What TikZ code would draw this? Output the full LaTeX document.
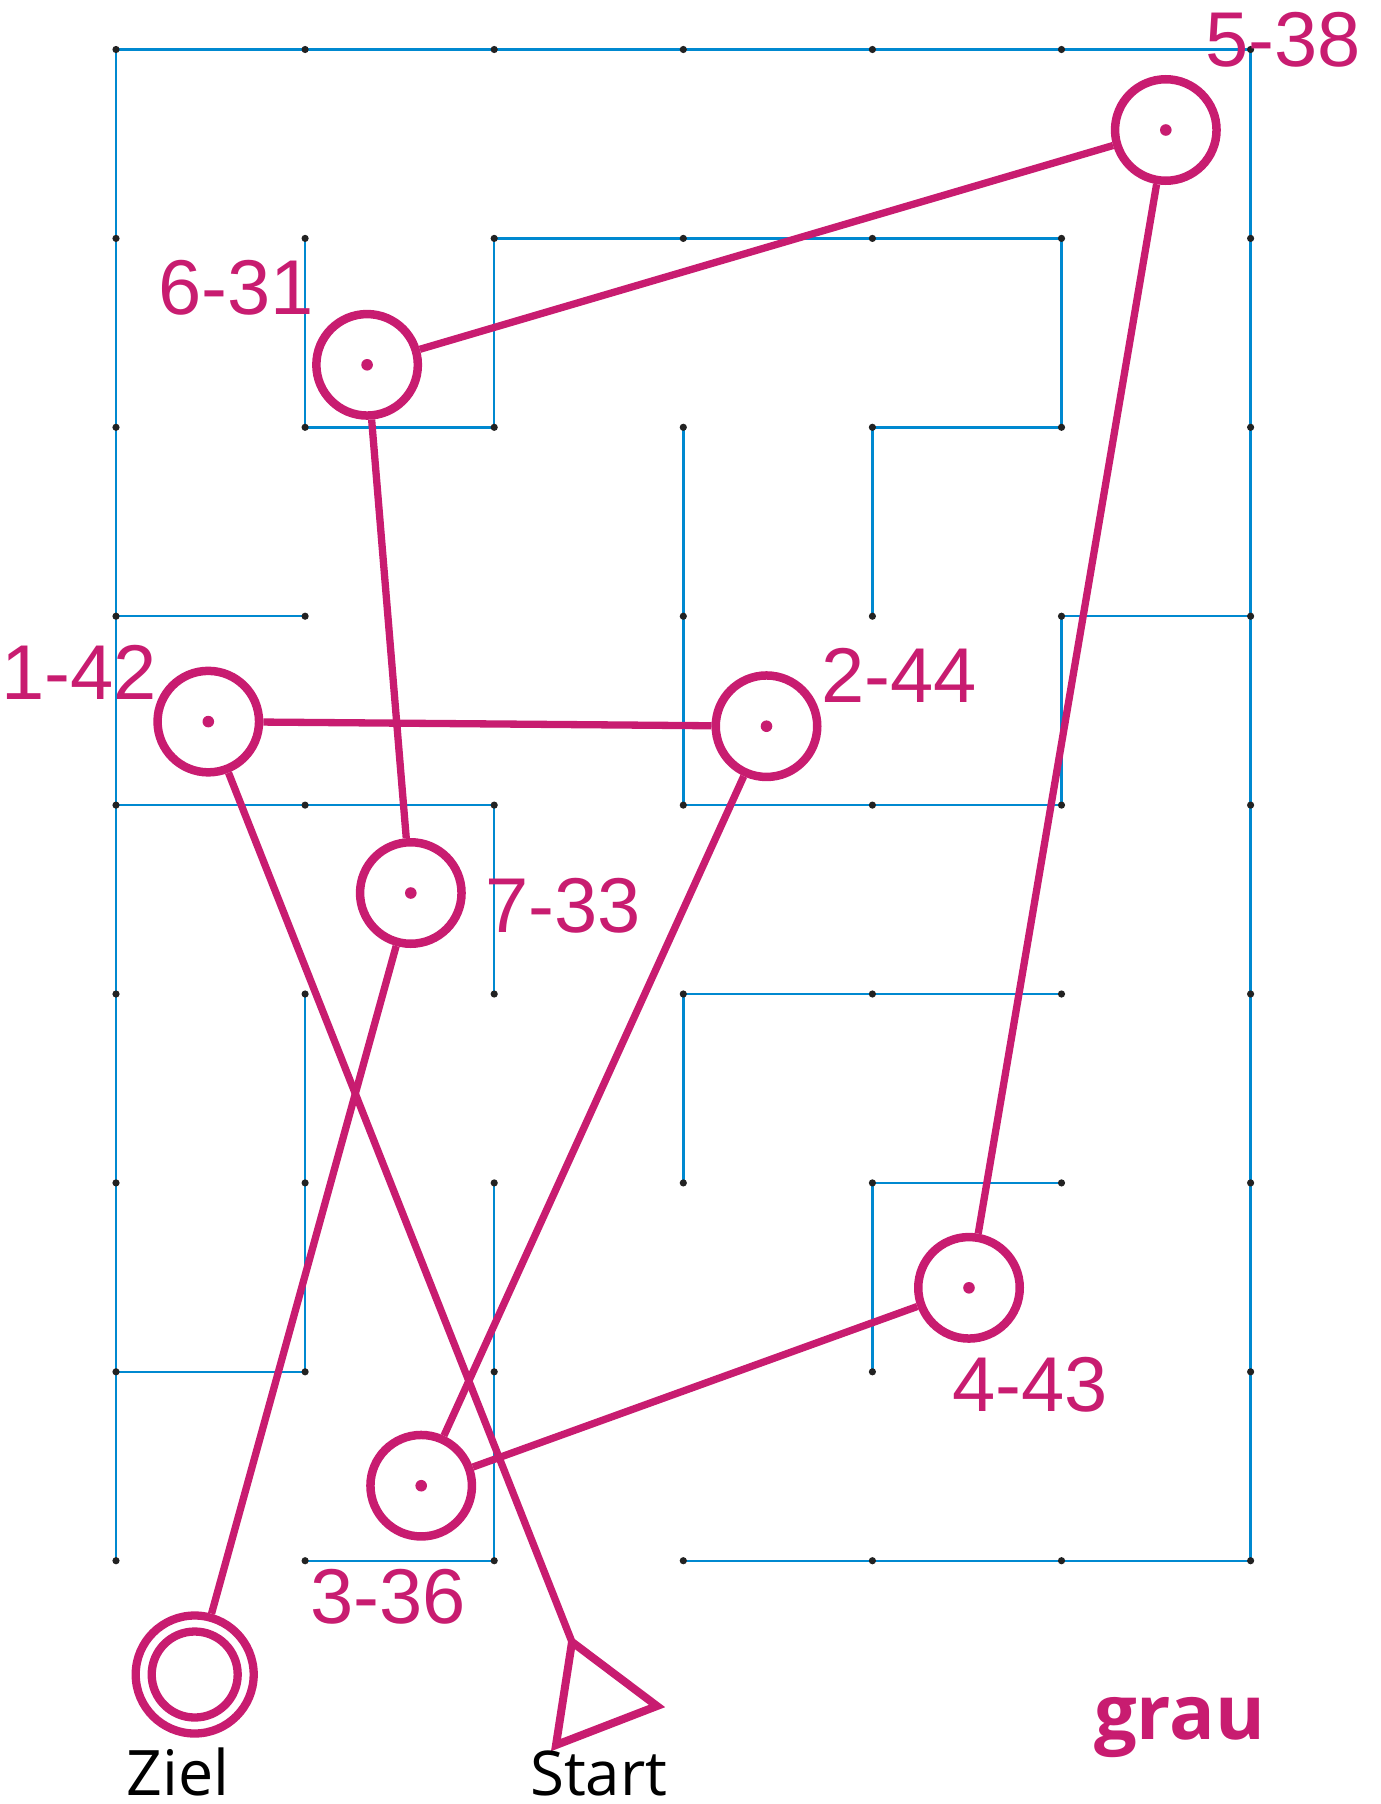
\documentclass[tikz,border=0pt]{standalone}
\usepackage{fontspec}
\setmainfont{Liberation Sans}
\newfontfamily\osans{Open Sans}
\definecolor{mag}{RGB}{200,28,112}
\definecolor{wall}{RGB}{0,137,208}
\definecolor{dotc}{RGB}{34,34,34}
\begin{document}
\begin{tikzpicture}[x=1bp,y=-1bp,
  wallline/.style={draw=wall,line width=2.4bp,line join=miter},
  griddot/.style={fill=dotc},
  route/.style={draw=mag,line width=7.3bp},
  station/.style={circle,draw=mag,line width=8.5bp,minimum size=101.5bp,inner sep=0pt},
  lbl/.style={text=mag,anchor=base west,inner sep=0pt,font=\fontsize{78}{80}\selectfont},
  blacklbl/.style={anchor=base west,inner sep=0pt,font=\osans\fontsize{63}{65}\selectfont},
]
\useasboundingbox (0,0) rectangle (1381,1804);
\foreach \i in {0,...,6} \foreach \j in {0,...,8}
  \coordinate (g\i\j) at ({116+189.1*\i},{49.5+188.9*\j});

% maze walls
\draw[wallline] (g00) -- (g60);
\draw[wallline] (g00) -- (g08);
\draw[wallline] (g60) -- (g68);
\draw[wallline] (g38) -- (g68);
\draw[wallline] (g18) -- (g28);
\draw[wallline] (g26) -- (g28);
\draw[wallline] (g15) -- (g17);
\draw[wallline] (g07) -- (g17);
\draw[wallline] (g04) -- (g24) -- (g25);
\draw[wallline] (g03) -- (g13);
\draw[wallline] (g11) -- (g12) -- (g22) -- (g21) -- (g51) -- (g52) -- (g42) -- (g43);
\draw[wallline] (g32) -- (g34) -- (g54) -- (g53) -- (g63);
\draw[wallline] (g36) -- (g35) -- (g55);
\draw[wallline] (g47) -- (g46) -- (g56);

% grid dots
\foreach \i in {0,...,6} \foreach \j in {0,...,8} {
  \pgfmathtruncatemacro\omitdot{((\i==2)&&(\j==3)) || ((\i==3)&&(\j==7)) || ((\i==5)&&(\j==7))}
  \ifnum\omitdot=0 \fill[griddot] (g\i\j) circle[radius=3.6]; \fi
}

% labels
\node[lbl] (l5) at (1205,66) {5-38};
\node[lbl] (l6) at (158,314) {6-31};
\node[lbl] (l1) at (1,699) {1-42};
\node[lbl] (l2) at (821,702) {2-44};
\node[lbl] (l7) at (485,932) {7-33};
\node[lbl] (l4) at (952,1411) {4-43};
\node[lbl] (l3) at (310,1623) {3-36};

% stations
\node[station] (n5) at (1165.8,130) {};
\node[station] (n6) at (367.1,364.8) {};
\node[station] (n1) at (208.3,721.6) {};
\node[station] (n2) at (766.5,726.2) {};
\node[station] (n7) at (410.8,893) {};
\node[station] (n4) at (969,1287.8) {};
\node[station] (n3) at (421.2,1485.7) {};
\foreach \n in {n1,n2,n3,n4,n5,n6,n7}
  \fill[mag] (\n) circle[radius=5.8];

% goal
\node[circle,draw=mag,line width=8.3bp,minimum size=118bp,inner sep=0pt] (ziel) at (194.7,1674.5) {};
\draw[mag,line width=8.3bp] (ziel.center) circle[radius=43];

% start triangle
\coordinate (start) at (572,1642);
\coordinate (sb) at (657,1706);
\coordinate (sc) at (556,1745);
\draw[mag,line width=8bp,line join=miter] (start) -- (sb) -- (sc) -- cycle;

% route
\draw[route] (start) -- (n1);
\draw[route] (n1) -- (n2);
\draw[route] (n2) -- (n3);
\draw[route] (n3) -- (n4);
\draw[route] (n4) -- (n5);
\draw[route] (n5) -- (n6);
\draw[route] (n6) -- (n7);
\draw[route] (n7) -- (ziel);

% texts
\node[blacklbl] (ziellbl) at (126.5,1795) {Ziel};
\node[blacklbl,font=\osans\fontsize{62}{64}\selectfont] (startlbl) at (530,1795) {Start};
\node[anchor=base west,inner sep=0pt,text=mag,font=\osans\bfseries\fontsize{76}{78}\selectfont] (grau) at (1094,1739) {grau};
\end{tikzpicture}
\end{document}
